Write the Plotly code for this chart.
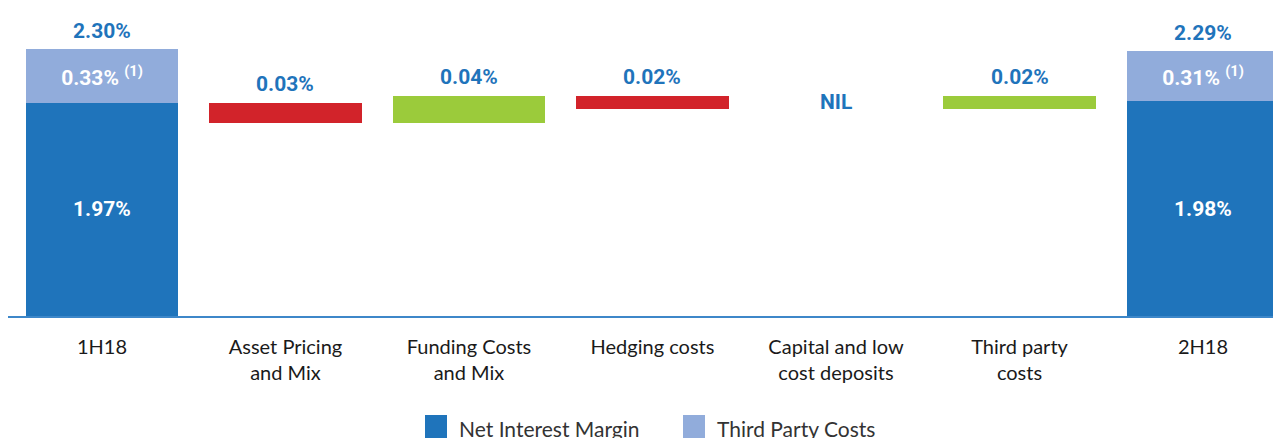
import plotly.graph_objects as go

# ---------------- data ----------------
categories = ["1H18", "Asset Pricing<br>and Mix", "Funding Costs<br>and Mix", "Hedging costs",
              "Capital and low<br>cost deposits", "Third party<br>costs", "2H18"]
nim_values = [1.97, 1.98]            # 1H18, 2H18 net interest margin
third_party_values = [0.33, 0.31]    # 1H18, 2H18 third party costs
step_values = [-0.03, 0.04, -0.02, 0.00, 0.02]  # movements between periods
legend_names = ["Net Interest Margin", "Third Party Costs"]

# ---------------- style ----------------
DARK = "#1f74bb"
LIGHT = "#91acdb"
RED = "#d2232a"
GREEN = "#9bcb3b"
LABEL_BLUE = "#1f74bb"
NUM_FONT = "Roboto, sans-serif"
NUM_SIZE = 21
CAT_FONT = "Lato, Open Sans, sans-serif"

OFF = 8  # page body margin
W, H = 1281 - OFF, 438 - OFF
ML, MR, MT, MB = 0, 0, 0, 122
Y_LO, Y_HI = 0.668, 2.55
ZOOM = 4.0
BW = 0.83

end_positions = [0, len(categories) - 1]
step_positions = list(range(1, len(categories) - 1))

# waterfall levels
levels = [nim_values[0]]
for v in step_values:
    levels.append(round(levels[-1] + v, 4))
s0 = nim_values[0]
y2_range = [s0 - (s0 - Y_LO) / ZOOM, s0 + (Y_HI - s0) / ZOOM]

fig = go.Figure()

num_font_white = dict(family=NUM_FONT, size=NUM_SIZE, color="white", weight="bold")
num_font_blue = dict(family=NUM_FONT, size=NUM_SIZE, color=LABEL_BLUE, weight="bold")

fig.add_trace(go.Bar(
    x=end_positions, y=nim_values, base=[0, 0], width=BW,
    marker=dict(color=DARK, line=dict(width=0)), opacity=1,
    name=legend_names[0], showlegend=False, hoverinfo="skip",
))
fig.add_trace(go.Bar(
    x=end_positions, y=third_party_values, base=nim_values, width=BW,
    marker=dict(color=LIGHT, line=dict(width=0)), opacity=1,
    name=legend_names[1], showlegend=False,
    text=[f"{v:.2f}% <sup>(1)</sup>" for v in third_party_values], textposition="inside",
    insidetextanchor="middle", textangle=0, constraintext="none",
    insidetextfont=num_font_white, textfont=num_font_white,
    hoverinfo="skip",
))

step_base = [min(levels[i], levels[i + 1]) for i in range(len(step_values))]
step_height = [abs(v) for v in step_values]
step_colors = [GREEN if v > 0 else RED for v in step_values]
fig.add_trace(go.Bar(
    x=step_positions, y=step_height, base=step_base, width=BW, yaxis="y2",
    marker=dict(color=step_colors, line=dict(width=0)), opacity=1,
    showlegend=False, hoverinfo="skip",
))

annotations = []
for i, p in enumerate(end_positions):
    total = nim_values[i] + third_party_values[i]
    annotations.append(dict(
        x=p, y=total, xref="x", yref="y", text=f"{total:.2f}%", showarrow=False,
        yanchor="bottom", yshift=4, font=num_font_blue,
    ))
    # NIM value centred in the visible part of the bar
    annotations.append(dict(
        x=p, y=(Y_LO + nim_values[i]) / 2, xref="x", yref="y", text=f"{nim_values[i]:.2f}%",
        showarrow=False, yanchor="middle", font=num_font_white,
    ))
for i, p in enumerate(step_positions):
    v = step_values[i]
    top = max(levels[i], levels[i + 1])
    txt = "NIL" if v == 0 else f"{abs(v):.2f}%"
    annotations.append(dict(
        x=p, y=top, xref="x", yref="y2", text=txt, showarrow=False,
        yanchor="bottom", yshift=5 if v != 0 else -7, font=num_font_blue,
    ))

# manual legend (paper coordinates derived from the reference pixel layout)
pw, ph = W - ML - MR, H - MT - MB
def px(xp):
    return (xp - OFF - ML) / pw
def py(yp):
    return (H - MB - (yp - OFF)) / ph

shapes = []
legend_items = [(425, DARK, legend_names[0]), (683, LIGHT, legend_names[1])]
for x0, col, name in legend_items:
    shapes.append(dict(type="rect", xref="paper", yref="paper",
                       x0=px(x0), x1=px(x0 + 22), y0=py(440), y1=py(415),
                       fillcolor=col, line=dict(width=0)))
    annotations.append(dict(
        x=px(x0 + 32), y=py(428), xref="paper", yref="paper", text=name,
        showarrow=False, xanchor="left", yanchor="middle",
        font=dict(family=CAT_FONT, size=21, color="#333333"),
    ))

fig.update_layout(
    width=W, height=H, margin=dict(l=ML, r=MR, t=MT, b=MB),
    paper_bgcolor="white", plot_bgcolor="white",
    barmode="overlay", bargap=0, showlegend=False,
    xaxis=dict(
        range=[-0.512, 6.425], tickvals=list(range(len(categories))), ticktext=categories,
        showgrid=False, zeroline=False, showline=True, linecolor="#3d87c9", linewidth=1.5,
        ticks="", ticklabelstandoff=12,
        tickfont=dict(family=CAT_FONT, size=20, color="#1a1a1a"),
    ),
    yaxis=dict(range=[Y_LO, Y_HI], visible=False, showgrid=False, zeroline=False),
    yaxis2=dict(range=y2_range, overlaying="y", visible=False, showgrid=False, zeroline=False),
    annotations=annotations, shapes=shapes,
)

fig.write_html("out.html")
